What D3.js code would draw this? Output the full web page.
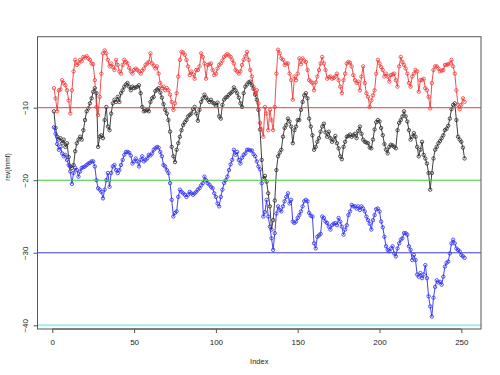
<!DOCTYPE html>
<html>
<head>
<meta charset="utf-8">
<script src="https://d3js.org/d3.v7.min.js"></script>
<style>
  body { margin: 0; background: #fff; }
  svg { display: block; font-family: "Liberation Sans", Arial, sans-serif; }
</style>
</head>
<body>
<script>
// values, index 1..252
var red = [-7.3,-8.7,-10.5,-7.6,-7.5,-6.2,-6.6,-6.9,-7.6,-9.0,
  -10.8,-7.6,-5.0,-3.4,-4.1,-3.9,-3.4,-3.6,-3.0,-3.1,
  -2.9,-3.2,-3.4,-3.9,-4.0,-6.2,-9.9,-11.0,-8.5,-5.3,
  -2.5,-2.1,-2.5,-3.4,-4.3,-3.9,-4.4,-4.8,-3.4,-4.1,
  -5.0,-5.3,-4.1,-3.4,-3.7,-3.9,-4.5,-5.0,-5.3,-4.8,
  -4.6,-4.8,-5.0,-5.3,-4.9,-4.6,-4.1,-3.9,-3.7,-2.5,
  -3.9,-4.2,-4.6,-4.3,-5.3,-6.6,-7.3,-7.1,-7.6,-7.3,
  -7.6,-8.2,-9.2,-10.3,-9.4,-8.0,-5.7,-3.4,-2.3,-2.4,
  -2.7,-3.4,-4.3,-5.5,-5.0,-5.4,-6.0,-4.8,-4.8,-4.3,
  -2.5,-3.0,-3.9,-6.0,-4.1,-4.0,-3.9,-4.8,-5.5,-5.3,
  -4.6,-4.1,-3.9,-3.5,-3.0,-2.8,-2.6,-2.8,-3.0,-3.4,
  -3.9,-4.8,-5.0,-5.3,-5.0,-4.1,-3.4,-2.9,-2.3,-3.4,
  -4.8,-5.7,-7.1,-8.0,-7.6,-9.4,-12.1,-13.0,-14.0,-9.9,
  -10.8,-13.1,-10.3,-11.7,-13.1,-9.9,-5.3,-2.0,-2.5,-3.2,
  -3.4,-4.1,-3.9,-3.9,-5.3,-6.2,-8.9,-5.7,-6.2,-5.3,
  -3.2,-4.0,-3.2,-3.5,-3.7,-4.8,-6.2,-6.4,-6.6,-7.6,
  -6.5,-5.7,-4.8,-3.9,-3.0,-3.9,-4.8,-6.0,-5.8,-5.7,
  -6.0,-5.9,-5.7,-5.3,-6.2,-7.1,-8.0,-6.2,-5.3,-3.9,
  -3.7,-3.8,-4.3,-5.5,-6.2,-6.6,-6.4,-7.6,-5.7,-4.3,
  -6.6,-8.0,-8.5,-9.9,-9.0,-8.3,-7.6,-5.3,-3.4,-3.9,
  -4.4,-4.8,-5.7,-5.3,-5.7,-6.4,-5.5,-5.4,-5.3,-6.2,
  -7.1,-4.3,-3.0,-3.7,-4.1,-4.6,-5.3,-6.6,-7.1,-5.7,
  -5.3,-4.8,-5.0,-7.8,-6.2,-6.2,-6.0,-7.3,-7.6,-8.5,
  -10.1,-6.6,-4.8,-4.3,-4.3,-4.6,-5.0,-4.9,-4.8,-4.1,
  -4.1,-4.0,-3.9,-3.4,-4.3,-5.3,-7.6,-9.6,-10.2,-9.6,
  -8.7,-9.2];

var black = [-10.5,-12.8,-14.0,-14.4,-14.2,-14.9,-14.4,-15.4,-14.9,-16.8,
  -18.1,-18.3,-17.9,-16.0,-14.9,-14.4,-14.0,-14.4,-13.1,-11.7,
  -10.5,-10.1,-9.4,-8.7,-7.8,-7.3,-8.0,-15.4,-14.0,-13.8,
  -14.2,-11.7,-9.9,-12.6,-13.1,-10.8,-9.4,-8.9,-9.2,-8.5,
  -9.2,-8.0,-7.6,-7.1,-6.8,-6.6,-7.1,-7.6,-7.1,-7.3,
  -7.2,-7.1,-6.9,-8.0,-9.9,-10.5,-10.4,-10.3,-10.5,-9.2,
  -8.7,-8.5,-7.7,-7.5,-7.3,-7.9,-8.6,-9.5,-10.3,-10.8,
  -11.7,-13.3,-15.4,-16.7,-17.5,-15.8,-14.9,-14.0,-13.1,-12.4,
  -12.0,-11.7,-11.2,-11.0,-10.8,-10.2,-9.9,-10.8,-11.8,-10.3,
  -9.2,-8.7,-8.2,-8.6,-8.9,-9.2,-8.9,-9.3,-9.4,-9.7,
  -9.3,-11.2,-11.5,-9.6,-8.9,-8.6,-8.5,-8.2,-8.0,-7.8,
  -7.2,-7.6,-8.0,-8.6,-9.4,-9.9,-8.0,-7.1,-6.8,-6.5,
  -6.4,-6.9,-7.4,-8.2,-8.9,-10.3,-13.0,-17.2,-19.8,-19.4,
  -20.2,-21.8,-23.6,-26.8,-25.5,-22.8,-18.6,-16.7,-16.2,-15.8,
  -14.0,-12.8,-12.4,-11.5,-11.9,-12.6,-14.9,-13.1,-12.6,-11.7,
  -11.7,-10.3,-9.2,-8.3,-8.0,-8.7,-11.5,-12.6,-13.8,-15.8,
  -15.4,-14.7,-14.2,-13.3,-12.6,-12.2,-13.4,-14.0,-13.3,-14.2,
  -14.7,-14.4,-13.9,-14.9,-15.6,-16.7,-17.1,-15.4,-14.7,-14.0,
  -13.9,-13.7,-14.0,-13.8,-13.6,-14.2,-13.2,-12.6,-13.6,-14.4,
  -14.7,-14.8,-14.9,-15.5,-15.6,-14.4,-13.0,-12.0,-11.7,-11.9,
  -12.8,-13.8,-15.0,-15.8,-16.3,-15.4,-15.1,-15.2,-15.4,-15.6,
  -13.1,-12.1,-11.7,-11.2,-10.5,-11.2,-11.9,-13.1,-14.4,-14.0,
  -13.5,-14.0,-15.4,-16.7,-15.8,-14.7,-16.5,-17.0,-17.7,-19.0,
  -21.3,-19.0,-17.0,-15.8,-15.4,-14.9,-14.6,-14.2,-13.8,-13.1,
  -12.9,-12.5,-11.5,-10.2,-9.6,-9.4,-11.7,-14.0,-14.4,-14.7,
  -15.5,-17.0];

var blue = [-12.7,-13.6,-15.0,-15.8,-15.4,-16.3,-16.7,-16.5,-17.2,-17.9,
  -18.8,-20.5,-19.0,-18.3,-18.6,-19.5,-18.8,-18.3,-18.2,-18.1,
  -17.9,-17.7,-17.6,-17.4,-17.4,-18.1,-20.0,-21.1,-21.3,-21.6,
  -22.5,-21.3,-20.0,-19.0,-20.9,-19.0,-18.1,-17.9,-18.6,-19.0,
  -18.6,-17.9,-17.2,-16.5,-16.1,-16.1,-16.2,-16.6,-17.7,-17.4,
  -17.0,-17.4,-18.1,-17.2,-16.7,-17.4,-17.2,-17.0,-16.5,-16.6,
  -16.3,-15.8,-15.6,-15.4,-15.5,-16.1,-16.7,-17.9,-18.1,-18.6,
  -19.0,-20.4,-22.7,-25.0,-24.5,-24.3,-22.3,-21.3,-21.6,-21.8,
  -22.0,-22.3,-22.0,-21.6,-21.8,-22.0,-21.8,-21.6,-21.3,-21.1,
  -20.7,-20.4,-19.5,-20.0,-20.4,-20.6,-20.9,-21.1,-21.8,-22.3,
  -23.2,-23.6,-22.3,-21.3,-20.4,-20.0,-19.5,-18.6,-17.8,-17.2,
  -15.8,-16.5,-16.1,-17.2,-17.7,-16.9,-16.5,-16.3,-15.8,-15.8,
  -15.9,-15.9,-16.4,-16.7,-17.4,-18.1,-18.5,-20.4,-25.0,-24.4,
  -22.7,-25.0,-26.4,-28.0,-29.6,-27.3,-24.6,-23.6,-24.1,-24.3,
  -23.6,-22.9,-22.3,-21.8,-23.2,-22.7,-25.7,-25.9,-25.7,-25.2,
  -24.8,-24.3,-23.6,-22.9,-22.7,-22.9,-24.5,-24.9,-25.0,-28.7,
  -29.4,-27.8,-27.6,-27.4,-25.0,-25.2,-25.7,-25.9,-26.4,-26.8,
  -26.2,-26.0,-25.9,-26.2,-25.2,-25.7,-26.4,-27.5,-26.8,-26.2,
  -24.8,-24.3,-23.4,-23.6,-23.6,-23.9,-23.6,-24.1,-23.6,-23.9,
  -24.3,-25.0,-25.5,-26.0,-26.8,-25.5,-24.8,-24.0,-23.9,-24.3,
  -25.7,-26.5,-27.8,-29.1,-29.6,-29.8,-29.4,-29.1,-30.1,-30.5,
  -29.4,-28.7,-28.2,-28.0,-27.3,-27.3,-27.5,-29.1,-29.6,-31.0,
  -30.3,-31.0,-33.0,-33.3,-32.8,-33.5,-33.0,-31.7,-33.5,-36.0,
  -37.4,-38.8,-36.2,-34.7,-33.8,-34.1,-34.0,-34.4,-33.3,-31.9,
  -31.4,-31.2,-30.1,-28.7,-28.2,-28.7,-29.4,-29.6,-29.8,-30.3,
  -30.5,-30.7];

var levels = [-10, -20, -30, -40];
var xTicks = [0, 50, 100, 150, 200, 250];
var yTicks = [-10, -20, -30, -40];
var xLabel = "Index";
var yLabel = "rev(lmmf)";

// styles
var seriesColors = { black: "#2b2b2b", red: "#f23a3a", blue: "#2f2ff0" };
var levelColors = ["#f03c3c", "#3cc83c", "#3c3cc8", "#9eeeee"];
var levelWidths = [1, 1, 1, 2];

var W = 500, H = 375;
var box = { left: 37.5, right: 481, top: 36.7, bottom: 329 };

var n = black.length;
var pad = (n - 1) * 0.04;
var x = d3.scaleLinear().domain([1 - pad, n + pad]).range([box.left, box.right]);
var y = d3.scaleLinear().domain([-40.51, -0.21]).range([box.bottom, box.top]);

var svg = d3.select(document.body).append("svg")
  .attr("width", W).attr("height", H);

svg.append("rect").attr("width", W).attr("height", H).attr("fill", "#fff");

var clip = svg.append("clipPath").attr("id", "plotclip")
  .append("rect")
  .attr("x", box.left).attr("y", box.top)
  .attr("width", box.right - box.left).attr("height", box.bottom - box.top);

var plot = svg.append("g").attr("clip-path", "url(#plotclip)");

var line = d3.line()
  .x(function (d, i) { return x(i + 1); })
  .y(function (d) { return y(d); });

function drawSeries(values, color) {
  plot.append("path")
    .datum(values)
    .attr("d", line)
    .attr("fill", "none")
    .attr("stroke", color)
    .attr("stroke-width", 0.9);
  plot.append("g")
    .selectAll("circle")
    .data(values)
    .enter()
    .append("circle")
    .attr("cx", function (d, i) { return x(i + 1); })
    .attr("cy", function (d) { return y(d); })
    .attr("r", 1.7)
    .attr("fill", "none")
    .attr("stroke", color)
    .attr("stroke-width", 0.8);
}

drawSeries(black, seriesColors.black);
drawSeries(red, seriesColors.red);
drawSeries(blue, seriesColors.blue);

// horizontal reference lines
plot.append("g")
  .selectAll("line")
  .data(levels)
  .enter()
  .append("line")
  .attr("x1", box.left).attr("x2", box.right)
  .attr("y1", function (d) { return y(d); })
  .attr("y2", function (d) { return y(d); })
  .attr("stroke", function (d, i) { return levelColors[i]; })
  .attr("stroke-width", function (d, i) { return levelWidths[i]; });

// box
svg.append("rect")
  .attr("x", box.left).attr("y", box.top)
  .attr("width", box.right - box.left).attr("height", box.bottom - box.top)
  .attr("fill", "none").attr("stroke", "#555").attr("stroke-width", 1);

// x axis
var xAxis = svg.append("g")
  .attr("transform", "translate(0," + box.bottom + ")")
  .call(d3.axisBottom(x).tickValues(xTicks).tickSize(4).tickPadding(6));
xAxis.select(".domain").attr("d", "M" + x(xTicks[0]) + ",0H" + x(xTicks[xTicks.length - 1]))
  .attr("stroke", "#555");
xAxis.selectAll(".tick line").attr("stroke", "#555");
xAxis.selectAll("text").attr("font-size", 8).attr("fill", "#222")
  .attr("font-family", "Liberation Sans, Arial, sans-serif");

// y axis
var yAxis = svg.append("g")
  .attr("transform", "translate(" + box.left + ",0)")
  .call(d3.axisLeft(y).tickValues(yTicks).tickSize(4).tickPadding(0));
yAxis.select(".domain").attr("d", "M0," + y(yTicks[0]) + "V" + y(yTicks[yTicks.length - 1]))
  .attr("stroke", "#555");
yAxis.selectAll(".tick line").attr("stroke", "#555");
yAxis.selectAll("text")
  .attr("font-size", 8).attr("fill", "#222")
  .attr("font-family", "Liberation Sans, Arial, sans-serif")
  .attr("x", null).attr("dy", null)
  .attr("text-anchor", "middle")
  .attr("transform", "translate(-12,0) rotate(-90)")
  .attr("dy", "0.35em");

// axis titles
svg.append("text")
  .attr("x", (box.left + box.right) / 2).attr("y", 364)
  .attr("text-anchor", "middle")
  .attr("font-size", 7.5).attr("fill", "#222")
  .text(xLabel);

svg.append("text")
  .attr("transform", "translate(10,167) rotate(-90)")
  .attr("text-anchor", "middle")
  .attr("font-size", 6.5).attr("fill", "#222")
  .text(yLabel);
</script>
</body>
</html>
